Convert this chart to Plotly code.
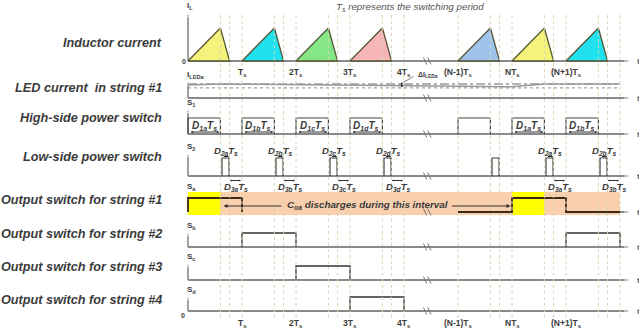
import plotly.graph_objects as go

# ---------------------------------------------------------------- data ----
# switching periods drawn on the time axis (slot 4 sits inside the axis break)
PERIOD_SLOTS = [0, 1, 2, 3, 5, 6, 7]
STRING_ID = ["a", "b", "c", "d", None, "a", "b"]
IL_PEAK = [1.0, 1.0, 1.0, 1.0, 1.0, 1.0, 1.0]
IL_FILL = ["#f6f37c", "#1fe2ee", "#84e684", "#f6b6b8", "#9ec4ee", "#f6f37c", "#1fe2ee"]

TICK_SLOTS = [1, 2, 3, 4, 5, 6, 7]
TICK_LABELS = ["T<sub>s</sub>", "2T<sub>s</sub>", "3T<sub>s</sub>", "4T<sub>s</sub>",
               "(N-1)T<sub>s</sub>", "NT<sub>s</sub>", "(N+1)T<sub>s</sub>"]

D1 = 0.60            # inductor current peak / high-side switch turns off
D12 = 0.77           # inductor current back to zero
S2_ON, S2_OFF = 0.63, 0.76
BREAK_T = 4.43
T_LAST = 8.0
T_ARROW = 8.2

# LED current of string #1 (normalised)
ILED_T = [0.0, 0.6, 6.0, 6.6, 8.0]
ILED_V = [0.93, 1.00, 0.80, 1.00, 1.00]
ILED_UPPER = 1.00
ILED_LOWER = 0.72
DELTA_I_T = 3.96

# output switch on-intervals (in switching periods)
SA_ON = [(0, 1), (6, 7)]
SB_ON = [(1, 2), (7, 8)]
SC_ON = [(2, 3)]
SD_ON = [(3, 4)]
SA_TRACED = [(0, 1), (5, 8)]
SA_CHARGE = [(0, 0.6), (6, 6.6)]
SA_BAND = (0, 8)

# ------------------------------------------------------------- layout ----
W, H = 639, 332
X0_PX, PX_PER_TS = 188, 54
X_LO = -X0_PX / PX_PER_TS
X_HI = X_LO + W / PX_PER_TS

# label, symbol, baseline px, px per unit, clip top, clip bottom, arrow top, label y, symbol y
ROWS = [
    ("Inductor current", "I<sub>L</sub>", 61, 33, 0, 80, 12, 43, 6),
    ("LED current  in string #1", "I<sub>LEDa</sub>", 98, 14, 66, 104, 80, 88, 75),
    ("High-side power switch", "S<sub>1</sub>", 134, 16, 100, 140, 108, 118, 103),
    ("Low-side power switch", "S<sub>2</sub>", 176, 18, 140, 192, 152, 157, 147),
    ("Output switch for string #1", "S<sub>a</sub>", 212, 14, 184, 220, 193, 200, 187),
    ("Output switch for string #2", "S<sub>b</sub>", 247, 14, 220, 254, 231, 234, 226),
    ("Output switch for string #3", "S<sub>c</sub>", 280, 14, 254, 286, 262, 267, 257),
    ("Output switch for string #4", "S<sub>d</sub>", 311, 14, 286, 332, 295, 300, 290),
]

FONT = "Liberation Sans, Arial, sans-serif"
TXT = "#3b3b3b"
AXC = "#8a8a8a"
GRID = "#d6d6b4"


def ya(i):
    return "y" if i == 0 else f"y{i + 1}"


def lv(i, px):
    return (ROWS[i][2] - px) / ROWS[i][3]


fig = go.Figure()


def line(i, xs, ys, color, width, dash=None, fill=None, fillcolor=None):
    fig.add_trace(go.Scatter(
        x=xs, y=ys, xaxis="x", yaxis=ya(i), mode="lines",
        line=dict(color=color, width=width, dash=dash),
        fill=fill, fillcolor=fillcolor, hoverinfo="skip", showlegend=False))


def text(i, x, y, s, size, xanchor="center", color=TXT, yanchor="middle"):
    fig.add_annotation(x=x, y=y, xref="x", yref=ya(i), text=s, showarrow=False,
                       xanchor=xanchor, yanchor=yanchor,
                       font=dict(family=FONT, size=size, color=color))


def darrow(i, x0, y0, x1, y1, size=0.6):
    fig.add_annotation(x=x1, y=y1, ax=x0, ay=y0, xref="x", yref=ya(i),
                       axref="x", ayref=ya(i), text="", showarrow=True,
                       arrowhead=2, arrowside="end+start", arrowsize=size,
                       arrowwidth=1, arrowcolor="#333")


def axes(i, draw_h=True):
    top = lv(i, ROWS[i][6])
    if draw_h:
        fig.add_trace(go.Scatter(
            x=[0, T_ARROW], y=[0, 0], xaxis="x", yaxis=ya(i), mode="lines+markers",
            line=dict(color=AXC, width=2),
            marker=dict(symbol="arrow", angleref="previous", size=[0, 6], color=AXC),
            hoverinfo="skip", showlegend=False))
    fig.add_trace(go.Scatter(
        x=[0, 0], y=[0, top], xaxis="x", yaxis=ya(i), mode="lines+markers",
        line=dict(color=AXC, width=1.6),
        marker=dict(symbol="arrow", angleref="previous", size=[0, 5], color=AXC),
        hoverinfo="skip", showlegend=False))


def break_marks(i):
    h = 3.5 / ROWS[i][3]
    xs, ys = [], []
    for dx in (-0.04, 0.04):
        xs += [BREAK_T + dx - 0.03, BREAK_T + dx + 0.03, None]
        ys += [h, -h, None]
    line(i, xs, ys, "#777", 1)


def box(on):
    xs, ys = [], []
    for a, b in on:
        xs += [a, a, b, b, None]
        ys += [0, 1, 1, 0, None]
    return xs, ys


def traced(on, windows):
    xs, ys = [], []
    for w0, w1 in windows:
        pts = [(w0, 0)]
        for a, b in on:
            if a >= w0 and b <= w1:
                pts += [(a, 0), (a, 1), (b, 1), (b, 0)]
        pts.append((w1, 0))
        xs += [p[0] for p in pts] + [None]
        ys += [p[1] for p in pts] + [None]
    return xs, ys


# ---------------------------------------------------- row 1: inductor ----
axes(0)
for k, pk, col in zip(PERIOD_SLOTS, IL_PEAK, IL_FILL):
    line(0, [k, k + D1, k + D12, k], [0, pk, 0, 0], "#555533", 1.3,
         fill="toself", fillcolor=col)
for k, lab in zip(TICK_SLOTS, TICK_LABELS):
    text(0, k, lv(0, 72), f"<b>{lab}</b>", 8.5)
text(0, 4.12, lv(0, 7), "<i>T<sub>s</sub> represents the switching period</i>", 9.8,
     color="#555")

# ------------------------------------------------- row 2: LED current ----
axes(1)
line(1, [0, T_LAST], [ILED_UPPER, ILED_UPPER], "#666", 1, dash="dashdot")
line(1, [0, T_LAST], [ILED_LOWER, ILED_LOWER], "#888", 1, dash="dot")
line(1, ILED_T, ILED_V, "#999", 1.5)
darrow(1, DELTA_I_T, ILED_LOWER - 0.08, DELTA_I_T, ILED_UPPER + 0.14, size=0.5)
fig.add_annotation(x=DELTA_I_T + 0.04, y=ILED_UPPER + 0.14, ax=4.2, ay=1.6,
                   xref="x", yref=ya(1), axref="x", ayref=ya(1), text="",
                   showarrow=True, arrowhead=0, arrowwidth=0.8, arrowcolor="#555")
text(1, 4.22, 1.64, "<b>ΔI<sub>LEDa</sub></b>", 7, xanchor="left")

# ------------------------------------------------ row 3: high-side S1 ----
axes(2)
xs, ys = box([(k, k + D1) for k in PERIOD_SLOTS])
line(2, xs, ys, "#444", 1.2)
for k, s in zip(PERIOD_SLOTS, STRING_ID):
    if s is None:
        continue
    text(2, k + D1 / 2, lv(2, 126.5), f"<b><i>D<sub>1{s}</sub>T<sub>s</sub></i></b>", 10)
    darrow(2, k + 0.02, lv(2, 132), k + D1 - 0.02, lv(2, 132), size=0.5)

# ------------------------------------------------- row 4: low-side S2 ----
axes(3)
xs, ys = box([(k + S2_ON, k + S2_OFF) for k in PERIOD_SLOTS])
line(3, xs, ys, "#444", 1.2)
for k, s in zip(PERIOD_SLOTS, STRING_ID):
    if s is None:
        continue
    mid = k + (S2_ON + S2_OFF) / 2
    text(3, mid, lv(3, 150.5), f"<b><i>D<sub>2{s}</sub>T<sub>s</sub></i></b>", 9.5)
    darrow(3, k + S2_ON, lv(3, 156.5), k + S2_OFF, lv(3, 156.5), size=0.4)
    text(3, k + (D12 + 1) / 2, lv(3, 186.5), f"<b><i>D<sub>3{s}</sub>T<sub>s</sub></i></b>", 9.5)
    darrow(3, k + D12 - 0.02, lv(3, 180.5), k + 1 - 0.02, lv(3, 180.5), size=0.4)

# ----------------------------------------------- row 5: output switch a ----
axes(4)
b0, b1 = lv(4, 215), lv(4, 192)
line(4, [SA_BAND[0], SA_BAND[1], SA_BAND[1], SA_BAND[0], SA_BAND[0]],
     [b0, b0, b1, b1, b0], "rgba(0,0,0,0)", 0, fill="toself", fillcolor="#f9cfae")
for a, b in SA_CHARGE:
    line(4, [a, b, b, a, a], [b0, b0, b1, b1, b0], "rgba(0,0,0,0)", 0,
         fill="toself", fillcolor="#ffff00")
xs, ys = traced(SA_ON, SA_TRACED)
line(4, xs, ys, "#3a2a1a", 1.8)
text(4, 3.33, lv(4, 205), "<b><i>C<sub>oa</sub> discharges during this interval</i></b>", 9.8)
ay_ = lv(4, 206)
for tip, tail in ((0.66, 1.76), (5.97, 4.86)):
    fig.add_annotation(x=tip, y=ay_, ax=tail, ay=ay_, xref="x", yref=ya(4),
                       axref="x", ayref=ya(4), text="", showarrow=True,
                       arrowhead=2, arrowsize=0.7, arrowwidth=1.1, arrowcolor="#333")

# --------------------------------------------- rows 6-8: output switches ----
for i, on in ((5, SB_ON), (6, SC_ON), (7, SD_ON)):
    axes(i)
    xs, ys = box(on)
    line(i, xs, ys, "#333", 1.3)
for k, lab in zip(TICK_SLOTS, TICK_LABELS):
    text(7, k, lv(7, 323), f"<b>{lab}</b>", 8.5)
text(7, -0.09, lv(7, 315), "<b>0</b>", 7)
text(0, -0.08, 0, "<b>0</b>", 7)

# ------------------------------------------------ common decorations ----
for i, row in enumerate(ROWS):
    break_marks(i)
    text(i, -0.44, lv(i, row[7]), f"<b><i>{row[0]}</i></b>", 12.7, xanchor="right")
    text(i, -0.05, lv(i, row[8]), f"<b>{row[1]}</b>", 8, xanchor="left")
    text(i, T_ARROW + 0.08, 0, "<b>t</b>", 8, xanchor="left", color="#666")

grid_t = sorted({k + f for k in PERIOD_SLOTS for f in (0, D1, D12)} | {4, 8})
for t in grid_t:
    if t == 0:
        continue
    fig.add_shape(type="line", xref="x", yref="paper", x0=t, x1=t,
                  y0=1 - 318 / H, y1=1 - 14 / H, layer="above",
                  line=dict(color=GRID, width=1, dash="dot"))

# --------------------------------------------------------------- axes ----
lay = dict(
    width=W, height=H, margin=dict(l=0, r=0, t=0, b=0),
    paper_bgcolor="white", plot_bgcolor="rgba(0,0,0,0)", showlegend=False,
    xaxis=dict(range=[X_LO, X_HI], visible=False, anchor="y8", domain=[0, 1],
               fixedrange=True),
)
for i, row in enumerate(ROWS):
    key = "yaxis" if i == 0 else f"yaxis{i + 1}"
    top_px, bot_px = row[4], row[5]
    lay[key] = dict(domain=[1 - bot_px / H, 1 - top_px / H],
                    range=[lv(i, bot_px), lv(i, top_px)],
                    visible=False, anchor="x", fixedrange=True)
fig.update_layout(**lay)

fig.write_html("out.html")
